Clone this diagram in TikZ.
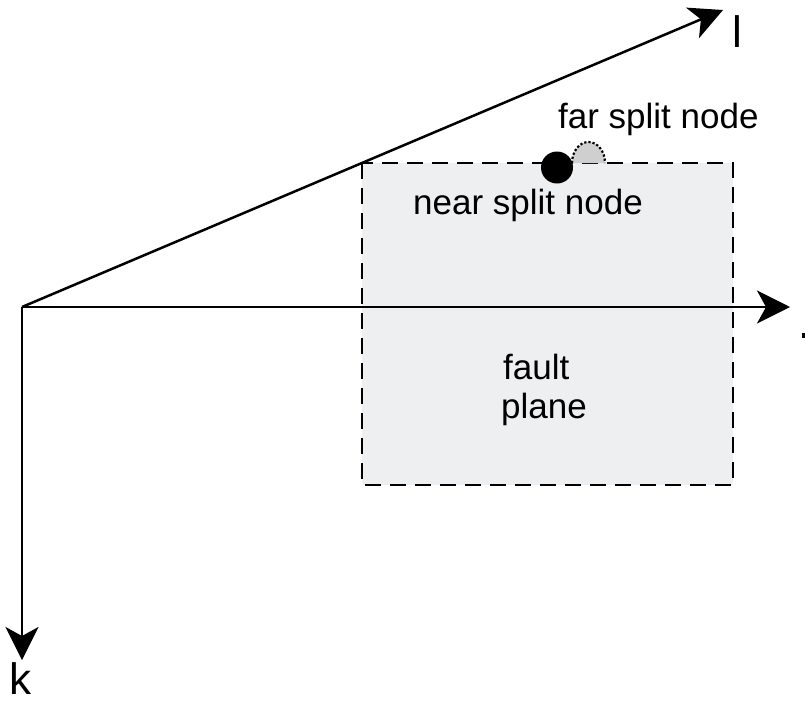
\documentclass[tikz,border=0pt]{standalone}
\usepackage{fontspec}
\setmainfont{Liberation Sans}
\usetikzlibrary{arrows.meta}
\definecolor{planefill}{HTML}{EEEFF0}
\definecolor{farfill}{HTML}{CFCFD0}
\tikzset{
  axis/.style={line width=2.5pt, -{Stealth[length=33pt,width=33pt,inset=9pt]}},
  lbl/.style={font=\fontsize{35}{42}\selectfont, inner sep=0pt, anchor=base west},
  axlbl/.style={font=\fontsize{44}{50}\selectfont, inner sep=0pt, anchor=base west},
  plane/.style={fill=planefill, draw=black, line width=2.5pt, dash pattern=on 16pt off 9pt},
}
\begin{document}
\begin{tikzpicture}[x=1pt,y=-1pt]
\useasboundingbox (0,0) rectangle (805,702);
% fault plane
\draw[plane] (362,163) rectangle (733,485);
% split nodes on the top edge
\fill[farfill] (572,163) arc[start angle=180,end angle=0,x radius=16.5pt,y radius=21pt] -- cycle;
\draw[line width=2.2pt, dotted] (572,163) arc[start angle=180,end angle=0,x radius=16.5pt,y radius=21pt];
\fill[black] (557,167.5) circle[radius=16pt];
% axes
\coordinate (o) at (22,307);
\coordinate (iend) at (790,307);
\coordinate (kend) at (22,660);
\coordinate (lend) at (723,10);
\draw[axis] (o) -- (iend);
\draw[axis] (o) -- (kend);
\draw[axis] (o) -- (lend);
% labels
\node[axlbl] (ll) at (732,47) {l};
\node[axlbl] (kl) at (9,694) {k};
\fill[black] (802,333) rectangle (806,338);
\node[lbl] (far) at (558,128) {far split node};
\node[lbl] (near) at (413,214) {near split node};
\node[lbl] (fault) at (503,379) {fault};
\node[lbl] (planel) at (501,418) {plane};
\end{tikzpicture}
\end{document}
